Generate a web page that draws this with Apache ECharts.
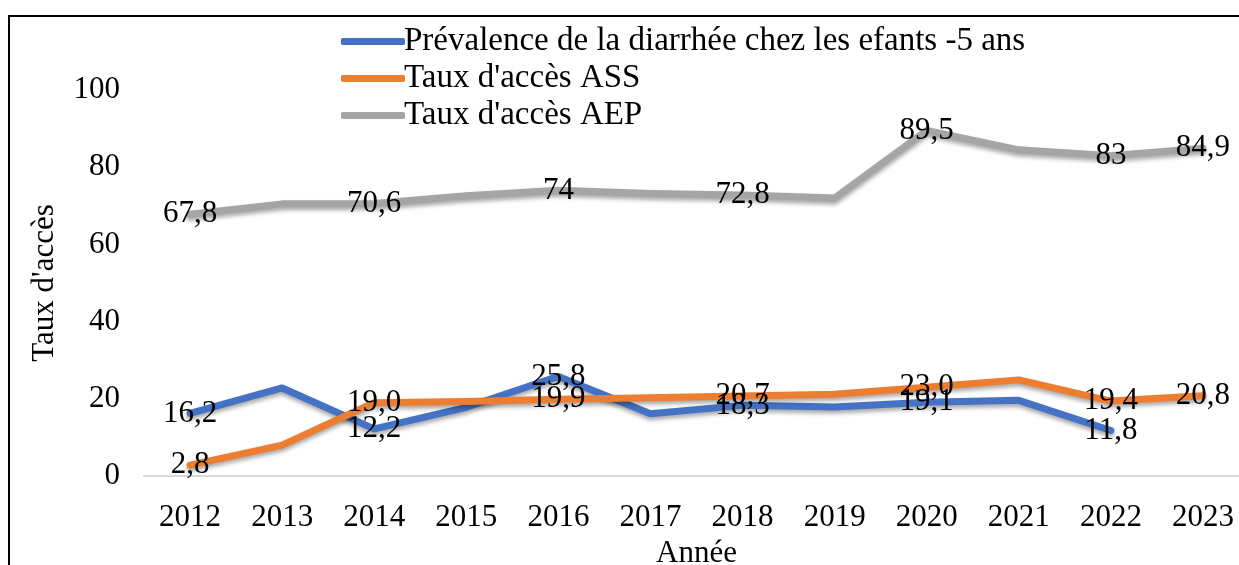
<!DOCTYPE html>
<html>
<head>
    <meta charset="UTF-8">
    <title>Taux d'accès</title>
    <script src="https://cdn.jsdelivr.net/npm/echarts@6.0.0/dist/echarts.min.js"></script>
    <style>
        * { margin: 0; padding: 0; box-sizing: border-box; }
        body { width: 1239px; height: 565px; background: #fff; overflow: hidden; position: relative; }
        .frame {
            position: absolute; left: 8px; top: 15px; width: 1400px; height: 700px;
            border-left: 2px solid #000; border-top: 2px solid #000;
        }
        #chart { position: absolute; left: 0; top: 0; width: 1239px; height: 565px; }
    </style>
</head>
<body>
    <div class="frame"></div>
    <div id="chart"></div>
    <script>
        const years = ['2012', '2013', '2014', '2015', '2016', '2017', '2018', '2019', '2020', '2021', '2022', '2023'];
        const diarrhee = [16.2, 22.8, 12.2, 17.8, 25.8, 16.1, 18.3, 17.9, 19.1, 19.6, 11.8, null];
        const accesASS = [2.8, 8.0, 19.0, 19.3, 19.9, 20.3, 20.7, 21.2, 23.0, 24.9, 19.4, 20.8];
        const accesAEP = [67.8, 70.5, 70.6, 72.6, 74, 73.2, 72.8, 72.0, 89.5, 84.5, 83, 84.9];
        // points that carry a value label
        const labelledDiarrhee = [0, 2, 4, 6, 8, 10];
        const labelledASS = [0, 2, 4, 6, 8, 10, 11];
        const labelledAEP = [0, 2, 4, 6, 8, 10, 11];

        const names = ['Prévalence de la diarrhée chez les efants -5 ans', "Taux d'accès ASS", "Taux d'accès AEP"];
        const colors = ['#4472c4', '#ed7d31', '#a5a5a5'];

        const font = 'Liberation Serif, Times New Roman, serif';
        const chart = echarts.init(document.getElementById('chart'));

        function makeSeries(name, values, labelled, color, fixed) {
            return {
                name: name,
                type: 'line',
                data: values,
                symbol: 'circle',
                symbolSize: 2,
                showSymbol: true,
                connectNulls: false,
                lineStyle: {
                    width: 7,
                    color: color,
                    cap: 'round',
                    join: 'round',
                    shadowColor: 'rgba(0,0,0,0.35)',
                    shadowBlur: 4,
                    shadowOffsetY: 3
                },
                itemStyle: { color: 'rgba(0,0,0,0)', borderWidth: 0 },
                label: {
                    show: true,
                    position: 'inside',
                    offset: [0, 3],
                    fontFamily: font,
                    fontSize: 31,
                    color: '#000',
                    formatter: function (p) {
                        if (labelled.indexOf(p.dataIndex) < 0 || p.value == null) return '';
                        const s = fixed ? p.value.toFixed(1) : String(p.value);
                        return s.replace('.', ',');
                    }
                },
                labelLayout: { hideOverlap: false },
                emphasis: { disabled: true }
            };
        }

        chart.setOption({
            animation: false,
            textStyle: { fontFamily: font },
            legend: {
                orient: 'vertical',
                left: 336,
                top: 20,
                icon: 'roundRect',
                itemWidth: 64,
                itemHeight: 7,
                itemGap: 4,
                textStyle: { fontFamily: font, fontSize: 33, color: '#000', padding: [0, 0, 0, -6] },
                data: names.map(function (n, i) {
                    return { name: n, itemStyle: { color: colors[i] } };
                })
            },
            grid: { left: 144, right: -10, top: 90, bottom: 89, outerBoundsMode: 'none', containLabel: false },
            xAxis: {
                type: 'category',
                data: years,
                boundaryGap: true,
                name: 'Année',
                nameLocation: 'middle',
                nameGap: 58,
                nameTextStyle: { fontFamily: font, fontSize: 31, color: '#000' },
                axisLine: { lineStyle: { color: '#d9d9d9', width: 2 } },
                axisTick: { show: false },
                axisLabel: { fontFamily: font, fontSize: 31, color: '#000', margin: 26 }
            },
            yAxis: {
                type: 'value',
                min: 0,
                max: 100,
                interval: 20,
                name: "Taux d'accès",
                nameLocation: 'middle',
                nameGap: 84,
                nameTextStyle: { fontFamily: font, fontSize: 31, color: '#000' },
                axisLine: { show: false },
                axisTick: { show: false },
                splitLine: { show: false },
                axisLabel: { fontFamily: font, fontSize: 31, color: '#000', margin: 24 }
            },
            series: [
                makeSeries(names[0], diarrhee, labelledDiarrhee, colors[0], true),
                makeSeries(names[1], accesASS, labelledASS, colors[1], true),
                makeSeries(names[2], accesAEP, labelledAEP, colors[2], false)
            ]
        });
    </script>
</body>
</html>
